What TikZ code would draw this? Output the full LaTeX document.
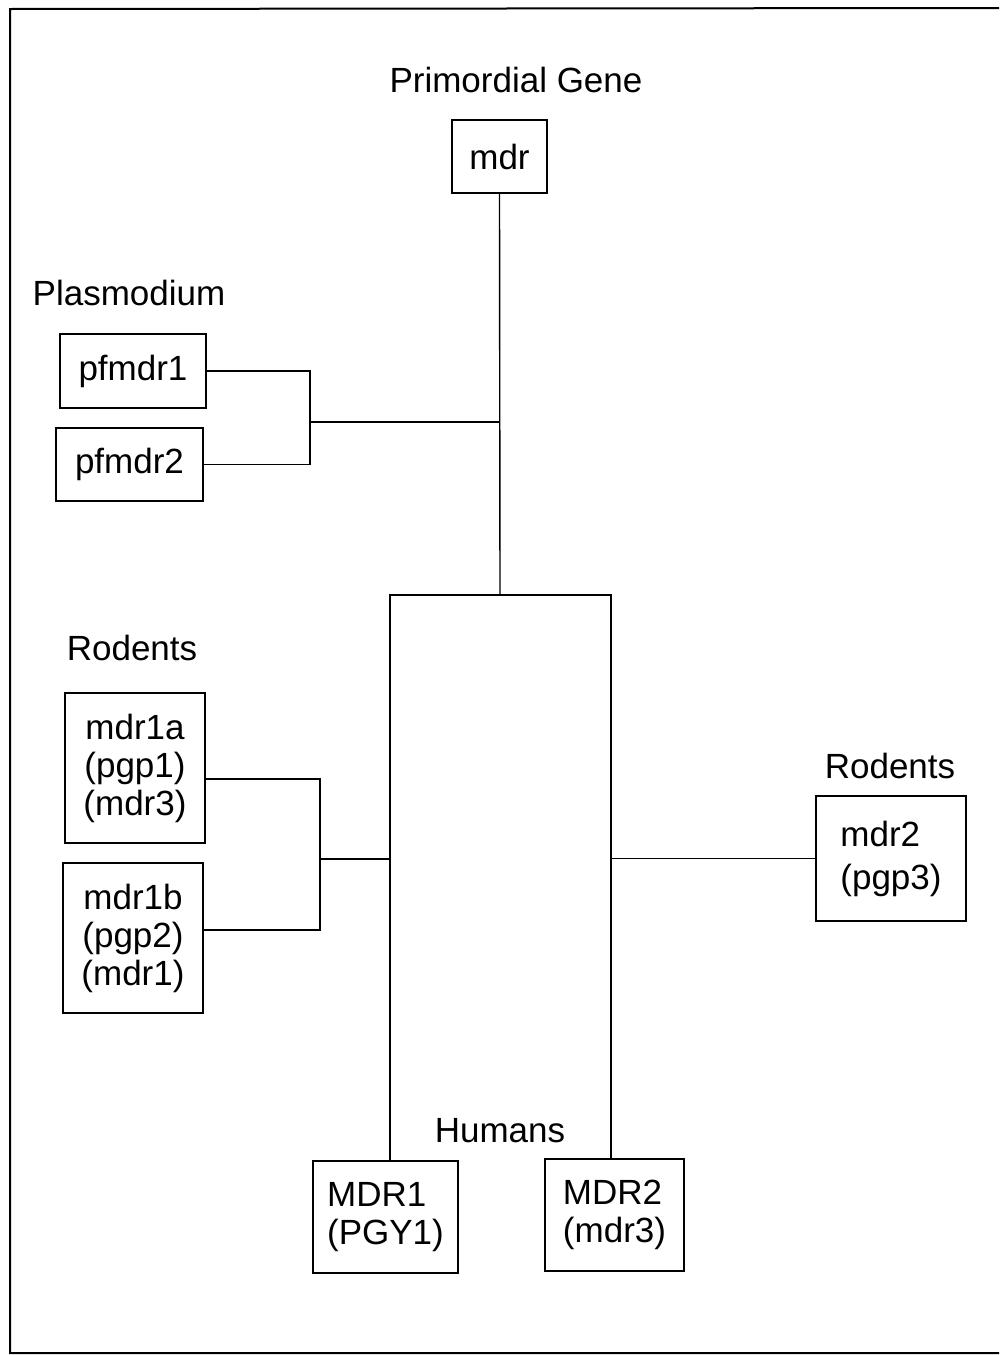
\documentclass[tikz,border=0pt]{standalone}
\usepackage{fontspec}
\setmainfont{Liberation Sans}
\begin{document}
\begin{tikzpicture}[x=1pt,y=-1pt,
  box/.style={draw,line width=1.6pt,inner sep=0pt,font=\fontsize{35}{38}\selectfont},
  lbl/.style={inner sep=0pt,font=\fontsize{35}{38}\selectfont},
  conn/.style={line width=1.4pt}]
\useasboundingbox (0,0) rectangle (999,1355);
\draw[line width=2pt] (999,8) -- (10,9) -- (10,1353) -- (999,1353);
% labels
\node[lbl] (lprim) at (516,80) {Primordial Gene};
\node[lbl] (lplas) at (129,293) {Plasmodium};
\node[lbl] (lrodl) at (132,648) {Rodents};
\node[lbl] (lrodr) at (890,766) {Rodents};
\node[lbl] (lhum) at (500,1131) {Humans};
% boxes
\node[box,minimum width=95pt,minimum height=73pt] (mdr) at (499.5,156.5) {mdr};
\node[box,minimum width=146pt,minimum height=74pt] (pf1) at (133,371) {pfmdr1};
\node[box,minimum width=147pt,minimum height=73pt] (pf2) at (129.5,464.5) {pfmdr2};
\node[box,minimum width=140pt,minimum height=150pt,align=center] (m1a) at (135,768) {mdr1a\\(pgp1)\\(mdr3)};
\node[box,minimum width=140pt,minimum height=150pt,align=center] (m1b) at (133,938) {mdr1b\\(pgp2)\\(mdr1)};
\node[box,minimum width=150pt,minimum height=125pt,align=left,font=\fontsize{35}{43}\selectfont] (m2) at (891,858.5) {mdr2\\(pgp3)};
\node[box,minimum width=145pt,minimum height=112pt,align=left] (h1) at (385.5,1217) {MDR1\\(PGY1)};
\node[box,minimum width=139pt,minimum height=112pt,align=left] (h2) at (614.5,1215) {MDR2\\(mdr3)};
% junction coordinates
\coordinate (jp) at (500,422);
\coordinate (top) at (500,595);
\coordinate (tl) at (390,595);
\coordinate (tr) at (611,595);
\coordinate (jr) at (390,859);
% connectors
\draw[conn] (mdr.south) -- (top);
\draw[conn] (pf1.east) -- (310,371) -- (310,464.5) -- (pf2.east);
\draw[conn] (310,422) -- (jp);
\draw[conn] (h1.north -| tl) -- (tl) -- (tr) -- (h2.north -| tr);
\draw[conn] (m1a.east |- 0,779) -- (320,779) -- (320,930) -- (m1b.east |- 0,930);
\draw[conn] (320,859) -- (jr);
\draw[conn] (m2.west) -- (m2.west -| tr);
\end{tikzpicture}
\end{document}
